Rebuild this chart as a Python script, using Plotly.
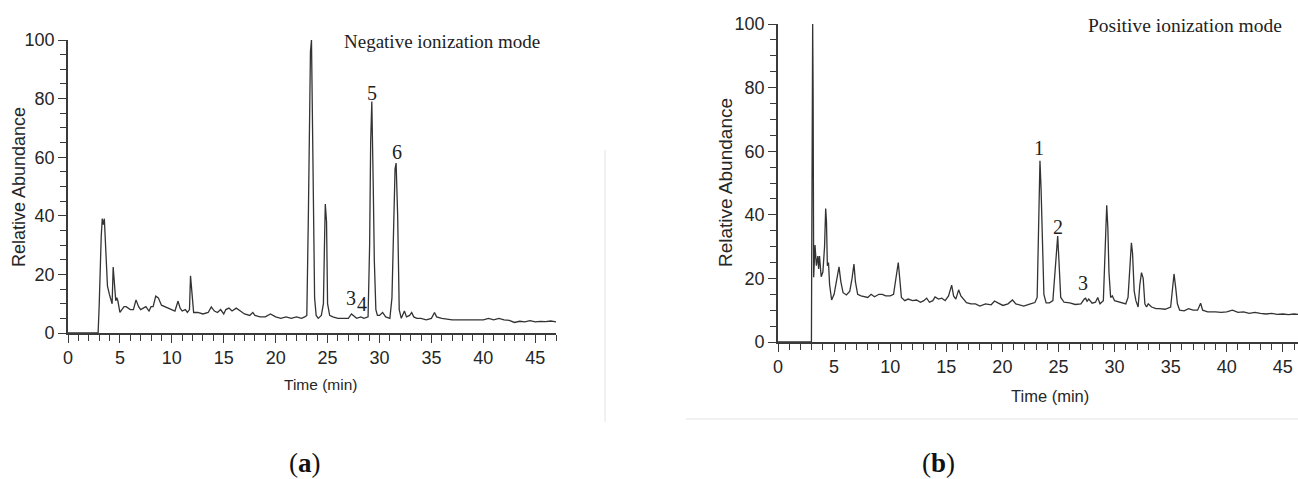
import plotly.graph_objects as go

# ---------------- data ----------------
neg_time = [0, 2.9, 3.0, 3.1, 3.2, 3.3, 3.4, 3.5, 3.6, 3.8, 4.0, 4.15, 4.25, 4.35, 4.5, 4.6, 4.7, 4.8, 5.0,
            5.2, 5.4, 5.6, 5.8, 6.0, 6.3, 6.55, 6.8, 7.0, 7.5, 7.8, 8.0, 8.2, 8.45, 8.7, 9.0, 9.3, 9.6, 10.0,
            10.3, 10.6, 10.8, 11.0, 11.3, 11.5, 11.7, 11.8, 11.95, 12.1, 12.5, 13.0, 13.5, 13.8, 14.1,
            14.4, 14.7, 15.0, 15.2, 15.5, 15.8, 16.2, 16.6, 17.0, 17.5, 17.8, 18.0, 18.5, 19.0, 19.5,
            20.0, 20.5, 21.0, 21.5, 22.0, 22.5, 22.8, 23.0, 23.15, 23.25, 23.35, 23.45, 23.55, 23.65,
            23.75, 23.9, 24.1, 24.4, 24.6, 24.7, 24.78, 24.9, 25.0, 25.2, 25.5, 26.0, 26.5, 27.0, 27.3,
            27.5, 27.8, 28.2, 28.5, 28.9, 29.05, 29.15, 29.26, 29.4, 29.5, 29.65, 29.8, 30.0, 30.3, 30.6,
            31.0, 31.2, 31.35, 31.5, 31.6, 31.75, 31.9, 32.1, 32.4, 32.6, 32.9, 33.1, 33.3, 33.6, 34.0,
            34.5, 35.0, 35.3, 35.5, 36.0, 37.0, 38.0, 39.0, 40.0, 40.5, 41.0, 41.5, 42.0, 42.5, 43.0,
            43.5, 44.0, 44.5, 45.0, 45.5, 46.0, 46.5, 47.0]
neg_abund = [0, 0, 9, 25, 33, 39, 37, 39, 30, 16, 13, 11, 10, 22.5, 15, 11, 12, 11, 7,
             8, 9, 9, 8.5, 8, 8, 11.3, 9, 8, 9, 7.5, 9, 9, 12.6, 12, 9.5, 9, 8.5, 8,
             7.5, 10.9, 8.5, 7.5, 8, 7, 8, 19.5, 14, 7, 7, 6.5, 7, 8.9, 7.5,
             7, 8, 6.5, 8, 8.5, 7.5, 8.5, 7.5, 6.5, 6, 7, 6, 5.5, 5.5, 6.5,
             5.5, 5, 5.5, 5, 5.5, 5, 5.5, 6, 40, 77, 96, 100, 70, 28,
             12, 6, 5, 6, 10, 30, 44, 38, 10, 6, 5.5, 5, 5, 5, 6.5,
             6, 5, 5.5, 5, 5.5, 30, 65, 79, 50, 25, 8, 6, 6, 7, 5.5,
             5, 12, 40, 56, 58, 40, 8, 5, 7.5, 5.5, 6, 7, 5.5, 5, 5,
             4.5, 5, 7, 5.5, 5, 4.5, 4.5, 4.5, 4.5, 5, 4.5, 5, 4.5, 4.3, 3.6,
             4, 3.8, 4.2, 3.8, 4, 3.9, 4.1, 3.8]

pos_time = [0, 2.98, 3.0, 3.05, 3.09, 3.13, 3.18, 3.3, 3.42, 3.55, 3.62, 3.7, 3.85, 4.0, 4.15, 4.25, 4.32,
            4.4, 4.5, 4.6, 4.78, 5.0, 5.2, 5.44, 5.6, 5.8, 6.1, 6.4, 6.6, 6.77, 6.9, 7.1, 7.4, 7.8, 8.0,
            8.3, 8.6, 9.0, 9.3, 9.6, 10.0, 10.3, 10.5, 10.72, 10.85, 11.0, 11.3, 11.6, 12.0, 12.35, 12.7,
            13.0, 13.25, 13.5, 13.8, 14.0, 14.3, 14.6, 14.9, 15.2, 15.48, 15.65, 15.85, 16.1, 16.3, 16.8,
            17.2, 17.6, 18.0, 18.5, 19.0, 19.3, 19.6, 20.05, 20.5, 20.9, 21.2, 21.9, 22.5, 22.9, 23.1,
            23.2, 23.3, 23.35, 23.45, 23.55, 23.7, 23.9, 24.2, 24.5, 24.7, 24.85, 24.93, 25.05, 25.2,
            25.5, 26.0, 26.5, 27.0, 27.3, 27.42, 27.55, 27.7, 28.0, 28.3, 28.5, 28.7, 29.0, 29.15, 29.25,
            29.3, 29.4, 29.5, 29.65, 29.8, 30.0, 30.5, 31.0, 31.2, 31.35, 31.5, 31.6, 31.75, 31.9, 32.1,
            32.25, 32.4, 32.55, 32.7, 32.85, 33.0, 33.3, 33.7, 34.0, 34.5, 35.0, 35.2, 35.3, 35.45, 35.6,
            35.8, 36.2, 36.6, 37.0, 37.4, 37.67, 37.85, 38.3, 39.0, 39.5, 40.0, 40.5, 41.0, 41.5, 42.0,
            42.5, 43.0, 43.5, 44.0, 44.5, 45.0, 45.5, 46.0, 46.35]
pos_abund = [0, 0, 21.7, 67, 100, 78, 20.4, 30.5, 24, 27, 23, 27, 20.5, 22, 30, 42, 38,
             24, 25, 18, 13.2, 15, 19, 23.6, 19, 15.5, 14.8, 16, 20, 24.5, 19, 15, 14.5, 14.2, 14,
             15, 14.2, 15, 15, 14.5, 14.5, 15, 20, 25, 20, 14, 13, 13.5, 13, 13.2, 12.5,
             13, 13.8, 12.5, 13, 14.2, 13.5, 13.8, 13, 14.5, 17.9, 14.5, 13.5, 16.4, 14.5, 12.4,
             12, 12, 11.3, 12, 11.7, 12.9, 12.3, 11.5, 12, 13.2, 12, 11.3, 12, 12.4, 14,
             33, 50, 57, 48, 33, 15, 12.3, 12.3, 13, 22, 31, 33.3, 25, 14,
             12.5, 12.3, 11.8, 12, 13.5, 13.8, 12.8, 13.5, 12.2, 12.5, 14, 12, 13, 30, 37,
             43, 36, 22, 14, 14.5, 13, 12.5, 12, 14, 25, 31.2, 28, 16, 13, 11,
             18, 21.8, 20, 12, 11, 12, 11, 10.5, 10.5, 10.3, 11, 17, 21.4, 17, 12,
             10, 9.8, 10.5, 10, 10, 12.2, 10, 9.5, 9.5, 9.3, 9.5, 10, 9.3, 9.5, 9,
             9.3, 9, 8.8, 9, 8.7, 8.8, 8.6, 8.8, 8.7]

y_tick_vals = [0, 20, 40, 60, 80, 100]
x_tick_vals = [0, 5, 10, 15, 20, 25, 30, 35, 40, 45]

neg_peak_labels = ["5", "6", "3", "4"]
neg_peak_x = [29.26, 31.7, 27.3, 28.3]
neg_peak_y = [81.9, 61.8, 11.9, 9.9]

pos_peak_labels = ["1", "2", "3"]
pos_peak_x = [23.26, 24.94, 27.18]
pos_peak_y = [61, 36.2, 18.6]

W, H = 1298, 479
LINE = "#333333"
AX = "#3a3a3a"
SANS = "Liberation Sans, Arial, sans-serif"
NARROW = "Liberation Sans Narrow, Arial Narrow, Liberation Sans, sans-serif"
SERIF = "Liberation Serif, Times New Roman, serif"


def px(x):
    return x / W


def py(y):
    return 1 - y / H


fig = go.Figure()
fig.add_trace(go.Scatter(x=neg_time, y=neg_abund, mode="lines",
                         line=dict(color=LINE, width=1.3), xaxis="x", yaxis="y", showlegend=False))
fig.add_trace(go.Scatter(x=pos_time, y=pos_abund, mode="lines",
                         line=dict(color=LINE, width=1.3), xaxis="x2", yaxis="y2", showlegend=False))


def xax(domain, rng, anchor):
    return dict(domain=domain, range=rng, anchor=anchor, showline=True, linecolor=AX, linewidth=1.6,
                showgrid=False, zeroline=False, ticks="outside", ticklen=8, tickwidth=1.4, tickcolor=AX,
                tickvals=x_tick_vals, ticktext=[str(v) for v in x_tick_vals],
                tickfont=dict(family=NARROW, size=18, color="#262626"),
                minor=dict(dtick=1, tick0=0, ticks="outside", ticklen=6, tickwidth=1.2, tickcolor=AX),
                fixedrange=True)


def yax(domain, anchor):
    return dict(domain=domain, range=[0, 100], anchor=anchor, showline=True, linecolor=AX, linewidth=1.6,
                showgrid=False, zeroline=False, ticks="outside", ticklen=8, tickwidth=1.4, tickcolor=AX,
                tickvals=y_tick_vals, ticktext=[str(v) for v in y_tick_vals],
                tickfont=dict(family=NARROW, size=18, color="#262626"),
                minor=dict(dtick=5, tick0=0, ticks="outside", ticklen=6, tickwidth=1.2, tickcolor=AX),
                fixedrange=True)


fig.update_layout(
    width=W, height=H, margin=dict(l=0, r=0, t=0, b=0, pad=0, autoexpand=False),
    paper_bgcolor="white", plot_bgcolor="white",
    xaxis=xax([px(68), px(556)], [0, 47], "y"),
    yaxis=yax([py(333), py(40)], "x"),
    xaxis2=xax([px(778), 1.0], [0, 46.35], "y2"),
    yaxis2=yax([py(342), py(24)], "x2"),
)


def note(text, x, y, xref="paper", yref="paper", size=16, family=SANS, color="#262626", angle=0):
    return dict(text=text, x=x, y=y, xref=xref, yref=yref, xanchor="center", yanchor="middle",
                showarrow=False, textangle=angle, font=dict(family=family, size=size, color=color))


ann = []
# axis titles
ann.append(note("Relative Abundance", px(19), py(187), size=18, angle=-90))
ann.append(note("Relative Abundance", px(725), py(183), size=19, angle=-90))
ann.append(note("Time (min)", px(320), py(384), size=15.5))
ann.append(note("Time (min)", px(1050), py(396), size=16.5))
# mode titles
ann.append(note("Negative ionization mode", px(442), py(42), size=19, family=SERIF, color="#222"))
ann.append(note("Positive ionization mode", px(1185), py(25), size=19.5, family=SERIF, color="#222"))
# peak labels
for t, xv, yv in zip(neg_peak_labels, neg_peak_x, neg_peak_y):
    ann.append(note(t, xv, yv, xref="x", yref="y", size=20, family=SERIF, color="#222"))
for t, xv, yv in zip(pos_peak_labels, pos_peak_x, pos_peak_y):
    ann.append(note(t, xv, yv, xref="x2", yref="y2", size=20, family=SERIF, color="#222"))
# panel letters
ann.append(note("(<b>a</b>)", px(305), py(463), size=27, family=SERIF, color="#111"))
ann.append(note("(<b>b</b>)", px(938), py(463), size=27, family=SERIF, color="#111"))
fig.update_layout(annotations=ann)

# faint borders of the original images
fig.add_shape(type="line", xref="paper", yref="paper", x0=px(605), x1=px(605), y0=py(150), y1=py(422),
              line=dict(color="#ececec", width=1.5))
fig.add_shape(type="line", xref="paper", yref="paper", x0=px(686), x1=1.0, y0=py(419), y1=py(419),
              line=dict(color="#ececec", width=1.5))

fig.write_html("out.html", config={"displayModeBar": False},
               post_script="document.body.style.margin='0';document.body.style.overflow='hidden';")
